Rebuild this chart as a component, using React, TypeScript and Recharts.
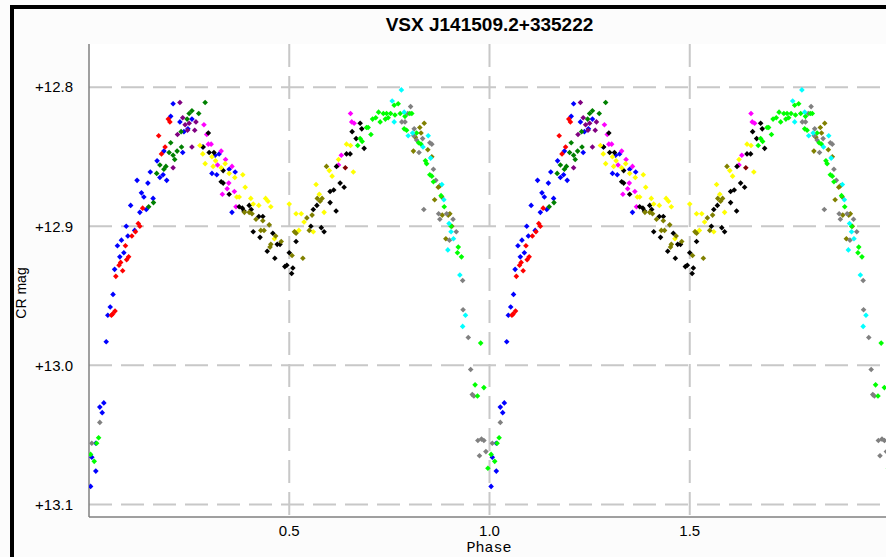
import { CartesianGrid, Scatter, ScatterChart, XAxis, YAxis } from "recharts";

// phase, CR mag — one list per observer colour (one cycle, repeated for phase 1..2)
const blue: [number, number][] = [
  [0.21, 12.812], [0.204, 12.821], [0.227, 12.825], [0.257, 12.823], [0.247, 12.83], [0.237, 12.832],
  [0.187, 12.846], [0.234, 12.847], [0.17, 12.853], [0.153, 12.861], [0.185, 12.863], [0.177, 12.865],
  [0.194, 12.867], [0.12, 12.867], [0.147, 12.869], [0.131, 12.876], [0.137, 12.879], [0.16, 12.88],
  [0.104, 12.885], [0.127, 12.89], [0.143, 12.888], [0.114, 12.903], [0.093, 12.9], [0.097, 12.907],
  [0.081, 12.91], [0.071, 12.914], [0.087, 12.919], [0.077, 12.922], [0.064, 12.931], [0.06, 12.949],
  [0.053, 12.958], [0.047, 12.964], [0.043, 12.983], [0.037, 13.027], [0.027, 13.03], [0.033, 13.034],
  [0.017, 13.056], [0.017, 13.076], [0.004, 13.087], [0.007, 13.066], [0.284, 12.843], [0.315, 12.849],
  [0.325, 12.848], [0.35, 12.859], [0.365, 12.861], [0.307, 12.862], [0.319, 12.863], [0.357, 12.89],
];
const red: [number, number][] = [
  [0.174, 12.835], [0.198, 12.823], [0.202, 12.825], [0.19, 12.843], [0.181, 12.848], [0.134, 12.887],
  [0.123, 12.898], [0.127, 12.9], [0.116, 12.904], [0.107, 12.907], [0.091, 12.914], [0.099, 12.922],
  [0.094, 12.924], [0.079, 12.926], [0.075, 12.928], [0.084, 12.932], [0.067, 12.936], [0.065, 12.961],
  [0.059, 12.963], [0.056, 12.964],
];
const green: [number, number][] = [
  [0.29, 12.811], [0.257, 12.817], [0.25, 12.819], [0.274, 12.819], [0.245, 12.823], [0.23, 12.832],
  [0.204, 12.84], [0.231, 12.843], [0.22, 12.846], [0.2, 12.847], [0.21, 12.849], [0.214, 12.852],
  [0.192, 12.857], [0.187, 12.859], [0.169, 12.862], [0.177, 12.856], [0.161, 12.883], [0.149, 12.886],
];
const purple: [number, number][] = [
  [0.227, 12.811], [0.267, 12.825], [0.25, 12.826], [0.24, 12.827], [0.264, 12.831], [0.221, 12.834],
  [0.234, 12.822], [0.257, 12.843], [0.21, 12.858], [0.246, 12.831],
];
const magenta: [number, number][] = [
  [0.287, 12.827], [0.294, 12.834], [0.298, 12.841], [0.305, 12.841], [0.33, 12.846], [0.341, 12.852],
  [0.321, 12.856], [0.357, 12.857], [0.349, 12.869], [0.345, 12.873], [0.363, 12.875], [0.333, 12.877],
  [0.367, 12.886], [0.653, 12.819], [0.656, 12.825], [0.662, 12.826], [0.63, 12.849], [0.623, 12.856],
];
const black: [number, number][] = [
  [0.298, 12.833], [0.285, 12.843], [0.3, 12.847], [0.312, 12.847], [0.335, 12.86], [0.33, 12.868],
  [0.335, 12.869], [0.35, 12.877], [0.375, 12.886], [0.383, 12.887], [0.387, 12.889], [0.4, 12.885],
  [0.405, 12.888], [0.424, 12.893], [0.434, 12.893], [0.41, 12.904], [0.427, 12.908], [0.459, 12.905],
  [0.47, 12.913], [0.477, 12.913], [0.445, 12.918], [0.464, 12.923], [0.5, 12.919], [0.489, 12.929],
  [0.494, 12.928], [0.509, 12.93], [0.506, 12.934], [0.517, 12.911], [0.677, 12.826], [0.681, 12.83],
  [0.657, 12.832], [0.667, 12.837], [0.687, 12.844], [0.643, 12.848], [0.652, 12.848], [0.618, 12.857],
  [0.627, 12.869], [0.637, 12.872], [0.602, 12.875], [0.611, 12.874], [0.602, 12.883], [0.617, 12.889],
  [0.569, 12.885], [0.56, 12.888], [0.554, 12.9], [0.58, 12.901], [0.587, 12.904],
];
const yellow: [number, number][] = [
  [0.277, 12.842], [0.284, 12.848], [0.29, 12.855], [0.307, 12.85], [0.316, 12.853], [0.31, 12.857],
  [0.34, 12.855], [0.33, 12.858], [0.35, 12.862], [0.364, 12.865], [0.384, 12.863], [0.39, 12.872],
  [0.369, 12.879], [0.375, 12.879], [0.404, 12.88], [0.41, 12.884], [0.424, 12.885], [0.441, 12.88],
  [0.447, 12.882], [0.454, 12.886], [0.5, 12.884], [0.517, 12.891], [0.53, 12.891], [0.537, 12.897],
  [0.514, 12.904], [0.524, 12.903], [0.56, 12.904], [0.463, 12.909], [0.587, 12.89], [0.567, 12.87],
  [0.575, 12.877], [0.6, 12.86], [0.607, 12.864], [0.623, 12.852], [0.643, 12.841], [0.653, 12.842],
  [0.66, 12.861],
];
const olive: [number, number][] = [
  [0.388, 12.89], [0.4, 12.89], [0.407, 12.891], [0.417, 12.895], [0.434, 12.896], [0.45, 12.899],
  [0.429, 12.903], [0.437, 12.903], [0.466, 12.907], [0.454, 12.913], [0.452, 12.915], [0.48, 12.911],
  [0.507, 12.921], [0.534, 12.923], [0.513, 12.904], [0.517, 12.905], [0.544, 12.894], [0.55, 12.903],
  [0.557, 12.892], [0.577, 12.882], [0.582, 12.88], [0.57, 12.88], [0.593, 12.857], [0.837, 12.826],
  [0.826, 12.829], [0.815, 12.836], [0.829, 12.833], [0.81, 12.846], [0.846, 12.845], [0.856, 12.85],
  [0.872, 12.872], [0.876, 12.871], [0.881, 12.879], [0.863, 12.881], [0.882, 12.892], [0.897, 12.892],
  [0.901, 12.891], [0.891, 12.909], [0.906, 12.9],
];
const gray: [number, number][] = [
  [0.803, 12.814], [0.796, 12.819], [0.789, 12.825], [0.781, 12.825], [0.812, 12.83], [0.811, 12.835],
  [0.818, 12.838], [0.833, 12.837], [0.851, 12.84], [0.856, 12.841], [0.824, 12.847], [0.86, 12.859],
  [0.866, 12.867], [0.836, 12.888], [0.873, 12.891], [0.876, 12.895], [0.893, 12.891], [0.909, 12.895],
  [0.917, 12.904], [0.9, 12.91], [0.933, 12.939], [0.934, 12.96], [0.947, 12.98], [0.953, 13.003],
  [0.957, 13.021], [0.961, 13.022], [0.971, 13.054], [0.98, 13.053], [0.986, 13.054], [0.975, 13.065],
  [0.991, 13.062], [0.007, 13.056], [0.027, 13.041],
];
const lime: [number, number][] = [
  [0.723, 12.818], [0.735, 12.819], [0.743, 12.819], [0.753, 12.819], [0.764, 12.82], [0.747, 12.822],
  [0.74, 12.823], [0.716, 12.822], [0.708, 12.823], [0.727, 12.825], [0.693, 12.829], [0.697, 12.829],
  [0.704, 12.834], [0.677, 12.837], [0.682, 12.839], [0.671, 12.842], [0.762, 12.813], [0.772, 12.812],
  [0.777, 12.819], [0.789, 12.821], [0.801, 12.819], [0.806, 12.819], [0.787, 12.83], [0.793, 12.831],
  [0.818, 12.833], [0.823, 12.84], [0.829, 12.841], [0.84, 12.853], [0.843, 12.855], [0.851, 12.863],
  [0.86, 12.868], [0.856, 12.864], [0.879, 12.878], [0.887, 12.886], [0.904, 12.9], [0.922, 12.915],
  [0.92, 12.919], [0.93, 12.922], [0.978, 12.984], [0.964, 13.014], [0.986, 13.016], [0.97, 13.022],
  [0.024, 13.052], [0.019, 13.056], [0.004, 13.064], [0.013, 13.069], [0.996, 13.074],
];
const cyan: [number, number][] = [
  [0.78, 12.802], [0.757, 12.81], [0.787, 12.818], [0.762, 12.825], [0.808, 12.833], [0.797, 12.835],
  [0.847, 12.835], [0.853, 12.851], [0.881, 12.87], [0.886, 12.881], [0.899, 12.898], [0.904, 12.904],
  [0.91, 12.909], [0.896, 12.917], [0.926, 12.935], [0.94, 12.964], [0.933, 12.972], [0.834, 12.843],
];
const darkRed: [number, number][] = [[0.64, 12.858]];

const SERIES: { name: string; color: string; points: [number, number][] }[] = [
  { name: "blue", color: "#0000ff", points: blue },
  { name: "red", color: "#ff0000", points: red },
  { name: "green", color: "#008000", points: green },
  { name: "purple", color: "#800080", points: purple },
  { name: "magenta", color: "#ff00ff", points: magenta },
  { name: "black", color: "#000000", points: black },
  { name: "yellow", color: "#ffff00", points: yellow },
  { name: "olive", color: "#808000", points: olive },
  { name: "gray", color: "#808080", points: gray },
  { name: "lime", color: "#00ff00", points: lime },
  { name: "cyan", color: "#00ffff", points: cyan },
  { name: "darkred", color: "#800000", points: darkRed },
];

const X_TICKS = [0.5, 1, 1.5];
const Y_TICKS = [12.8, 12.9, 13.0, 13.1];

// phase plot shows two cycles
const twoCycles = (pts: [number, number][]) =>
  pts.concat(pts.map(([p, m]) => [p + 1, m] as [number, number])).map(([x, y]) => ({ x, y }));

const Diamond = (props: any) => {
  const { cx, cy, fill } = props;
  const r = 2.8;
  return (
    <polygon
      points={`${cx},${cy - r} ${cx + r},${cy} ${cx},${cy + r} ${cx - r},${cy}`}
      fill={fill}
    />
  );
};

const SANS = "'Liberation Sans', Arial, sans-serif";

export default function App() {
  return (
    <div
      style={{
        position: "absolute",
        left: 0,
        top: 0,
        width: 886,
        height: 557,
        overflow: "hidden",
        background: "#fcfcfc",
        fontFamily: SANS,
      }}
    >
      <ScatterChart
        width={896}
        height={557}
        margin={{ top: 44, right: 6, bottom: 0, left: 0 }}
        style={{ position: "absolute", left: 0, top: 0 }}
      >
        <CartesianGrid
          stroke="#c8c8c8"
          strokeWidth={2}
          strokeDasharray="23 9"
          fill="#ffffff"
          verticalValues={X_TICKS}
          horizontalValues={Y_TICKS}
        />
        <XAxis
          type="number"
          dataKey="x"
          domain={[0, 2]}
          ticks={X_TICKS}
          allowDataOverflow
          height={40}
          tickLine={false}
          tickSize={0}
          tickMargin={8}
          axisLine={{ stroke: "#808080", strokeWidth: 1.5 }}
          tick={{ fill: "#000", fontSize: 15, fontFamily: SANS }}
          tickFormatter={(v: number) => v.toFixed(1)}
        />
        <XAxis
          xAxisId="top"
          orientation="top"
          type="number"
          domain={[0, 2]}
          height={0}
          tick={false}
          tickLine={false}
          axisLine={{ stroke: "#808080", strokeWidth: 1.5 }}
        />
        <YAxis
          type="number"
          dataKey="y"
          reversed
          domain={[12.769, 13.109]}
          ticks={Y_TICKS}
          allowDataOverflow
          width={89}
          tickLine={false}
          tickSize={0}
          tickMargin={16}
          axisLine={{ stroke: "#808080", strokeWidth: 1.5 }}
          tick={{ fill: "#000", fontSize: 15, fontFamily: SANS }}
          tickFormatter={(v: number) => "+" + v.toFixed(1)}
        />
        {SERIES.map((s) => (
          <Scatter
            key={s.name}
            name={s.name}
            data={twoCycles(s.points)}
            fill={s.color}
            shape={Diamond}
            isAnimationActive={false}
          />
        ))}
      </ScatterChart>

      <div style={{ position: "absolute", left: 10, top: 5, width: 876, height: 4, background: "#000" }} />
      <div style={{ position: "absolute", left: 10, top: 5, width: 4, height: 552, background: "#000" }} />

      <div
        style={{
          position: "absolute",
          left: 89,
          top: 15,
          width: 801,
          textAlign: "center",
          fontWeight: "bold",
          fontSize: 19,
          lineHeight: "19px",
          color: "#000",
        }}
      >
        VSX J141509.2+335222
      </div>
      <div
        style={{
          position: "absolute",
          left: 21,
          top: 293,
          transform: "translate(-50%, -50%) rotate(-90deg)",
          fontSize: 14,
          whiteSpace: "nowrap",
          color: "#000",
        }}
      >
        CR mag
      </div>
      <div
        style={{
          position: "absolute",
          left: 489,
          top: 548,
          transform: "translate(-50%, -50%)",
          fontFamily: "'Liberation Mono', 'Courier New', monospace",
          fontSize: 15,
          whiteSpace: "nowrap",
          color: "#000",
        }}
      >
        Phase
      </div>
    </div>
  );
}
